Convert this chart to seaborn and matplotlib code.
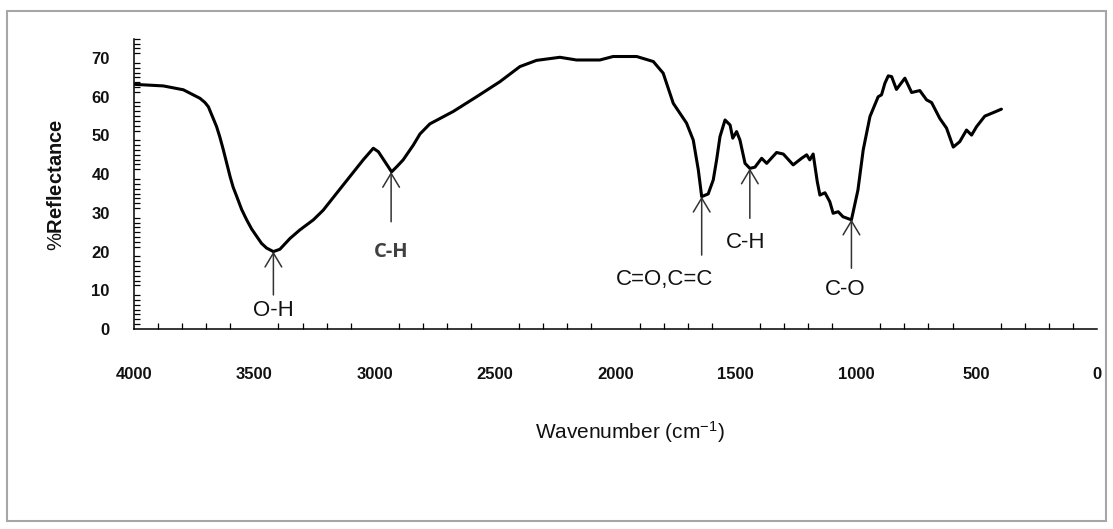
import matplotlib
matplotlib.use("Agg")
import matplotlib.pyplot as plt
from matplotlib.ticker import MultipleLocator
from matplotlib.patches import Rectangle
import seaborn as sns
import pandas as pd

# ---- data ----
wavenumber = [3996, 3878, 3795, 3726, 3705, 3691, 3657, 3643, 3629, 3601, 3588, 3573,
              3553, 3532, 3511, 3490, 3470, 3449,
              3421, 3394, 3352, 3311, 3255, 3214, 3158, 3103, 3048, 3006, 2985, 2930,
              2909, 2882, 2840, 2812, 2771, 2674, 2577, 2480, 2397, 2328, 2231, 2162,
              2065, 2010, 1912, 1843, 1802, 1760, 1705, 1677, 1656, 1642, 1615, 1594,
              1580, 1566, 1545, 1524, 1513, 1497, 1483, 1462, 1442, 1421, 1393, 1372,
              1331, 1303, 1262, 1227, 1206, 1193, 1179, 1162, 1151, 1130, 1110, 1096,
              1075, 1055, 1020, 993, 971, 943, 909, 895, 881, 867, 853, 833, 798, 770,
              736, 708, 687, 653, 625, 597, 570, 542, 521, 500, 466, 431, 397]
reflectance = [63.2, 62.8, 61.8, 59.6, 58.5, 57.4, 52.3, 49.5, 46.3, 39.4, 36.6, 34.2,
               30.9, 28.2, 25.8, 23.9, 22.1, 20.9,
               20.0, 20.6, 23.4, 25.6, 28.2, 30.7, 35.1, 39.4, 43.7, 46.7, 45.8, 40.6,
               41.9, 43.7, 47.5, 50.4, 53.0, 56.2, 60.0, 63.9, 67.8, 69.4, 70.2, 69.5,
               69.5, 70.4, 70.4, 69.1, 66.1, 58.3, 53.2, 48.8, 41.1, 34.2, 34.9, 38.5,
               43.7, 49.7, 54.0, 52.7, 49.3, 51.0, 48.8, 42.8, 41.5, 41.8, 44.1, 42.8,
               45.6, 45.2, 42.4, 44.1, 45.0, 43.7, 45.2, 38.1, 34.6, 35.2, 32.9, 29.9,
               30.3, 29.0, 28.2, 35.9, 46.3, 54.9, 60.0, 60.5, 63.5, 65.4, 65.2, 61.9,
               64.8, 61.1, 61.6, 59.2, 58.5, 54.4, 51.9, 47.0, 48.4, 51.4, 50.1, 52.3,
               55.0, 55.9, 56.8]

# annotations: label, arrow x, arrow tip y, arrow tail y, text x, text y
ann_labels = ["O-H", "C-H", "C=O,C=C", "C-H", "C-O"]
ann_x = [3421, 2932, 1642, 1442, 1020]
ann_tip = [20.0, 40.6, 34.2, 41.5, 28.3]
ann_tail = [8.8, 27.7, 19.1, 28.6, 15.7]
ann_text_x = [3421, 2932, 1795, 1460, 1047]
ann_text_y = [4.9, 20.0, 12.7, 22.3, 10.1]

x_ticks = [4000, 3500, 3000, 2500, 2000, 1500, 1000, 500, 0]
y_ticks = [0, 10, 20, 30, 40, 50, 60, 70]

df = pd.DataFrame({"wavenumber": wavenumber, "reflectance": reflectance})

sns.set_theme(style="white")
plt.rcParams["font.family"] = ["Liberation Sans", "DejaVu Sans"]
plt.rcParams["mathtext.fontset"] = "custom"
plt.rcParams["mathtext.rm"] = "Liberation Sans"
plt.rcParams["mathtext.bf"] = "Liberation Sans:bold"
plt.rcParams["mathtext.default"] = "regular"

fig = plt.figure(figsize=(11.13, 5.29), dpi=100)
fig.patch.set_facecolor("white")
ax = fig.add_axes([134 / 1113, 1 - 329 / 529, 963 / 1113, 290.3 / 529])
ax.set_facecolor("white")

sns.lineplot(data=df, x="wavenumber", y="reflectance", ax=ax, color="black",
             linewidth=2.2, sort=False, estimator=None)
for ln in ax.lines:
    ln.set_solid_joinstyle("round")
    ln.set_solid_capstyle("round")

ax.set_xlim(4000, 0)
ax.set_ylim(0, 75)
ax.set_xticks(x_ticks)
ax.set_yticks(y_ticks)
ax.xaxis.set_minor_locator(MultipleLocator(100))
ax.yaxis.set_minor_locator(MultipleLocator(1.25))

for s in ["top", "right"]:
    ax.spines[s].set_visible(False)
for s in ["left", "bottom"]:
    ax.spines[s].set_color("black")
    ax.spines[s].set_linewidth(1.1)

ax.tick_params(axis="both", which="major", direction="inout", length=9, width=1.0,
               color="black", labelsize=12, labelcolor="#111111")
ax.tick_params(axis="both", which="minor", direction="in", length=4, width=0.9,
               color="black")
ax.tick_params(axis="x", which="major", pad=23)
ax.tick_params(axis="y", which="major", pad=13)
ax.tick_params(axis="x", which="minor", bottom=True)
ax.tick_params(axis="y", which="minor", left=True)
for lbl in ax.get_xticklabels() + ax.get_yticklabels():
    lbl.set_fontweight("bold")

ax.set_xlabel(r"Wavenumber (cm$^{-1}$)", fontsize=15, color="#111111")
ax.xaxis.set_label_coords((630 - 134) / 963, (329 - 419) / 290.3)
ax.set_ylabel(r"%$\mathbf{Reflectance}$", fontsize=14.5, color="#111111")
ax.yaxis.set_label_coords((56 - 134) / 963, 0.496)
ax.yaxis.label.set_va("center")

for lab, x, tip, tail, tx, ty in zip(ann_labels, ann_x, ann_tip, ann_tail,
                                     ann_text_x, ann_text_y):
    ax.annotate("", xy=(x, tip), xytext=(x, tail),
                arrowprops=dict(arrowstyle="->,head_length=0.5,head_width=0.3",
                                mutation_scale=20, lw=1.1, color="#333333",
                                shrinkA=0, shrinkB=0))
for i, (lab, tx, ty) in enumerate(zip(ann_labels, ann_text_x, ann_text_y)):
    if i == 1:
        ax.text(tx, ty, lab, ha="center", va="center", fontsize=14.5,
                fontweight="bold", family=["Open Sans", "DejaVu Sans"],
                color="#404040")
    else:
        ax.text(tx, ty, lab, ha="center", va="center", fontsize=16,
                color="#111111")

# outer chart border
fig.patches.append(Rectangle((7 / 1113, 1 - 521 / 529), (1106 - 7) / 1113,
                             (521 - 11) / 529, transform=fig.transFigure,
                             fill=False, edgecolor="#a6a6a6", linewidth=1.5))

fig.savefig("out.png", dpi=100, facecolor="white")
